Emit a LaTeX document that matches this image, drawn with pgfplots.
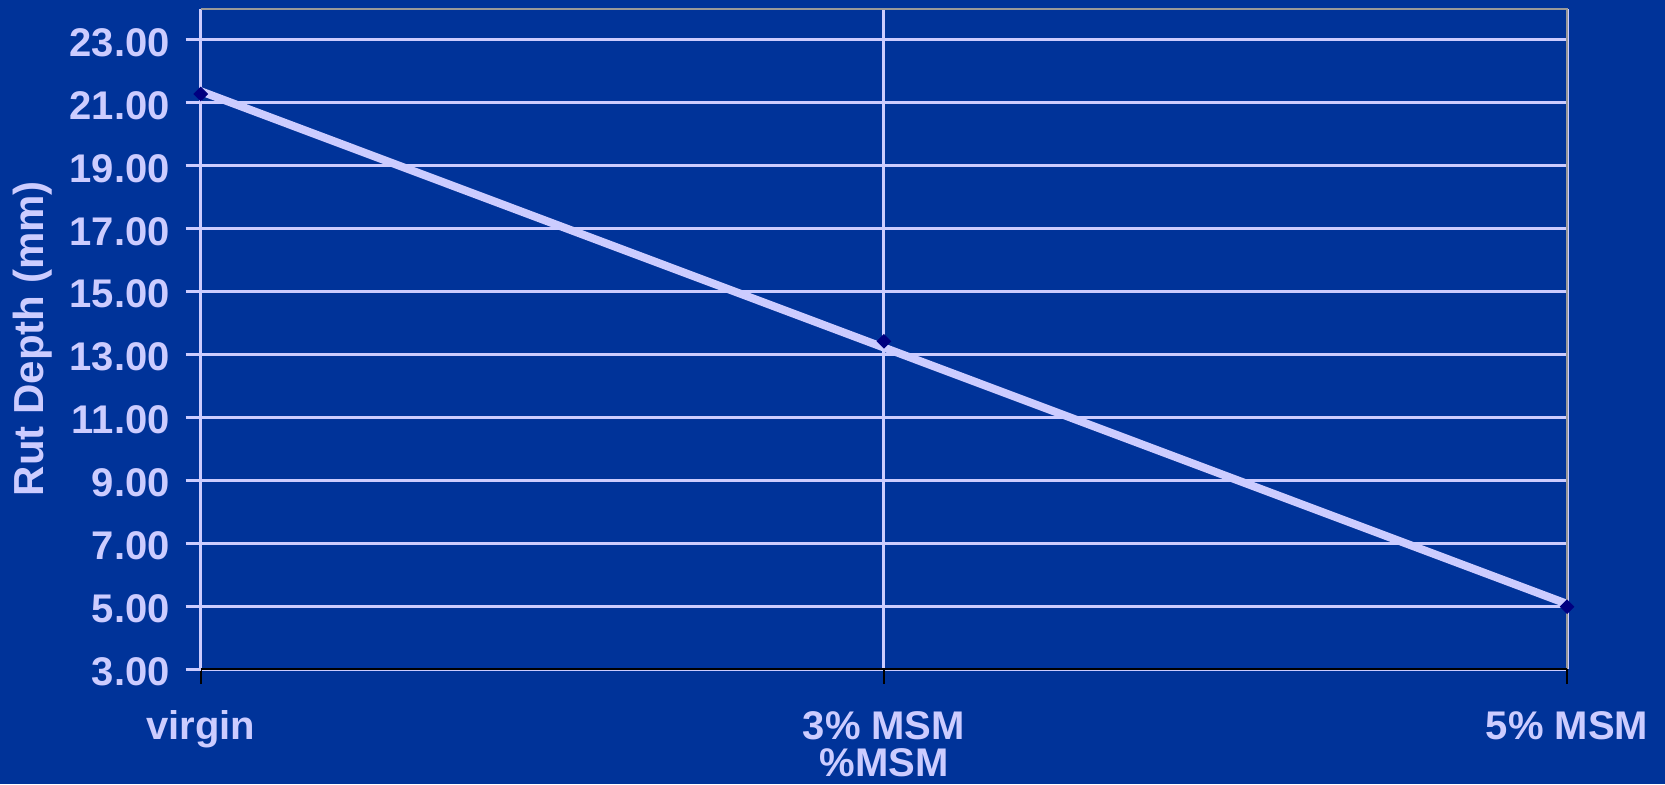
\documentclass[border=0pt]{standalone}
\usepackage{pgfplots}
\pgfplotsset{compat=1.18}
\usepackage{fontspec}
\setmainfont{Liberation Sans}
\definecolor{bg}{HTML}{003399}
\definecolor{lav}{HTML}{CCCCFF}
\definecolor{navy}{HTML}{000080}
\begin{document}
\begin{tikzpicture}
\path[use as bounding box, fill=bg] (0,0) rectangle (832.5pt,392pt);
\begin{axis}[
  at={(100.35pt,57.5pt)}, anchor=south west,
  scale only axis, width=683.2pt, height=330.25pt,
  xmin=0, xmax=2, ymin=3, ymax=24,
  clip=false,
  xtick={0,1,2}, xticklabels={virgin,3\% MSM,5\% MSM},
  ytick={3,5,...,23},
  /pgf/number format/.cd, fixed, fixed zerofill, precision=2, assume math mode=true,
  /pgfplots/.cd,
  axis line style={draw=none},
  tick align=outside,
  xtick pos=bottom, ytick pos=left,
  major tick length=7.5pt,
  xtick style={draw=black, line width=0.9pt},
  ytick style={draw=lav, line width=1.5pt},
  xmajorgrids, ymajorgrids,
  major grid style={draw=lav, line width=1.5pt},
  ticklabel style={font=\fontsize{20}{24}\selectfont\bfseries, text=lav},
  xticklabel style={anchor=base, inner sep=0pt, yshift=-27.8pt},
  yticklabel style={anchor=east, inner sep=0pt, xshift=-7.8pt, yshift=-1.3pt},
  xlabel={\%MSM},
  ylabel={Rut Depth (mm)},
  label style={text=lav},
  xlabel style={font=\fontsize{20}{24}\selectfont\bfseries, at={(axis description cs:0.5,0)}, anchor=base, inner sep=0pt, yshift=-53.8pt},
  ylabel style={font=\fontsize{21}{25}\selectfont\bfseries, at={(axis description cs:0,0.5)}, anchor=center, xshift=0pt, yshift=83.9pt},
]
\addplot[only marks, mark=square*, mark size=2.4pt, mark options={rotate=45}, color=navy] coordinates {(0,21.28) (1,13.42) (2,4.98)};
\addplot[lav, line width=4pt, no marks] coordinates {(0,21.37) (1,13.22) (2,5.07)};
\draw[gray!80, line width=1pt] (rel axis cs:0,1) -- (rel axis cs:1,1) -- (rel axis cs:1,0);
\draw[black, line width=0.9pt] (rel axis cs:0,0) -- (rel axis cs:1,0);
\end{axis}
\end{tikzpicture}
\end{document}
